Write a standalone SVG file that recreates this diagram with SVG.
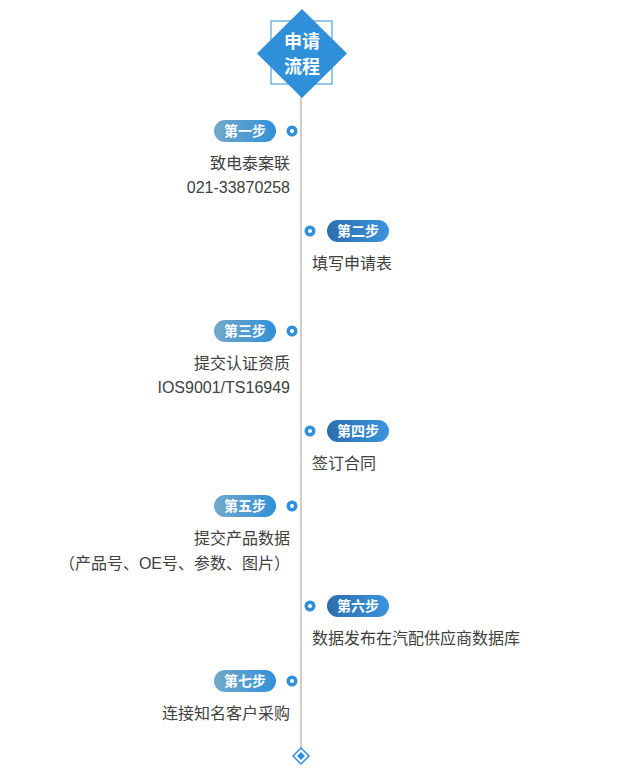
<svg xmlns="http://www.w3.org/2000/svg" width="629" height="773" viewBox="0 0 629 773">
<defs>
<linearGradient id="gl" x1="0" y1="0" x2="1" y2="0"><stop offset="0" stop-color="#72a9c9"/><stop offset="1" stop-color="#3190d9"/></linearGradient>
<linearGradient id="gr" x1="0" y1="0" x2="1" y2="0"><stop offset="0" stop-color="#2c6ead"/><stop offset="1" stop-color="#3a94de"/></linearGradient>
<style>
.pl{fill:url(#gl)}
.pr{fill:url(#gr)}
.pt{font-family:"Liberation Sans","Noto Sans CJK SC",sans-serif;font-size:14px;font-weight:bold;fill:#fff;text-anchor:middle}
.t{font-family:"Liberation Sans","Noto Sans CJK SC",sans-serif;font-size:16px;fill:#404040}
.tl{text-anchor:end}
.dot{fill:#fff;stroke:#2f8fd8;stroke-width:3.5}
.h{font-family:"Liberation Sans","Noto Sans CJK SC",sans-serif;font-size:18px;font-weight:bold;fill:#fff;text-anchor:middle}
</style>
</defs>
<g id="connectors">
<line x1="301" y1="96" x2="301" y2="749" stroke="#a99a8e" stroke-width="1"/>
</g>
<g id="header">
<rect x="271" y="21" width="61" height="63" fill="none" stroke="#2f8fd8" stroke-width="1"/>
<polygon points="302,9 347,53.5 302,98 257,53.5" fill="#2f8fd8"/>
<text class="h" x="302" y="48">申请</text>
<text class="h" x="302" y="73">流程</text>
</g>
<g id="end">
<polygon points="301,748 309,756 301,764 293,756" fill="#fff" stroke="#2f8fd8" stroke-width="1.5"/>
<polygon points="301,752 305,756 301,760 297,756" fill="#2f8fd8"/>
</g>
<g id="step1">
<circle class="dot" cx="292" cy="131" r="3.75"/>
<rect class="pl" x="214" y="120" width="62" height="22" rx="11"/>
<text class="pt" x="245" y="136">第一步</text>
<text class="t tl" x="290" y="169">致电泰案联</text>
<text class="t tl" x="290" y="193">021-33870258</text>
</g>
<g id="step2">
<circle class="dot" cx="310" cy="231" r="3.75"/>
<rect class="pr" x="327" y="220" width="62" height="22" rx="11"/>
<text class="pt" x="358" y="236">第二步</text>
<text class="t" x="312" y="269">填写申请表</text>
</g>
<g id="step3">
<circle class="dot" cx="292" cy="331" r="3.75"/>
<rect class="pl" x="214" y="320" width="62" height="22" rx="11"/>
<text class="pt" x="245" y="336">第三步</text>
<text class="t tl" x="290" y="369">提交认证资质</text>
<text class="t tl" x="290" y="393">IOS9001/TS16949</text>
</g>
<g id="step4">
<circle class="dot" cx="310" cy="431" r="3.75"/>
<rect class="pr" x="327" y="420" width="62" height="22" rx="11"/>
<text class="pt" x="358" y="436">第四步</text>
<text class="t" x="312" y="469">签订合同</text>
</g>
<g id="step5">
<circle class="dot" cx="292" cy="506" r="3.75"/>
<rect class="pl" x="214" y="495" width="62" height="22" rx="11"/>
<text class="pt" x="245" y="511">第五步</text>
<text class="t tl" x="290" y="544">提交产品数据</text>
<text class="t tl" x="290" y="569">（产品号、OE号、参数、图片）</text>
</g>
<g id="step6">
<circle class="dot" cx="310" cy="606" r="3.75"/>
<rect class="pr" x="327" y="595" width="62" height="22" rx="11"/>
<text class="pt" x="358" y="611">第六步</text>
<text class="t" x="312" y="644">数据发布在汽配供应商数据库</text>
</g>
<g id="step7">
<circle class="dot" cx="292" cy="681" r="3.75"/>
<rect class="pl" x="214" y="670" width="62" height="22" rx="11"/>
<text class="pt" x="245" y="686">第七步</text>
<text class="t tl" x="290" y="719">连接知名客户采购</text>
</g>
</svg>
